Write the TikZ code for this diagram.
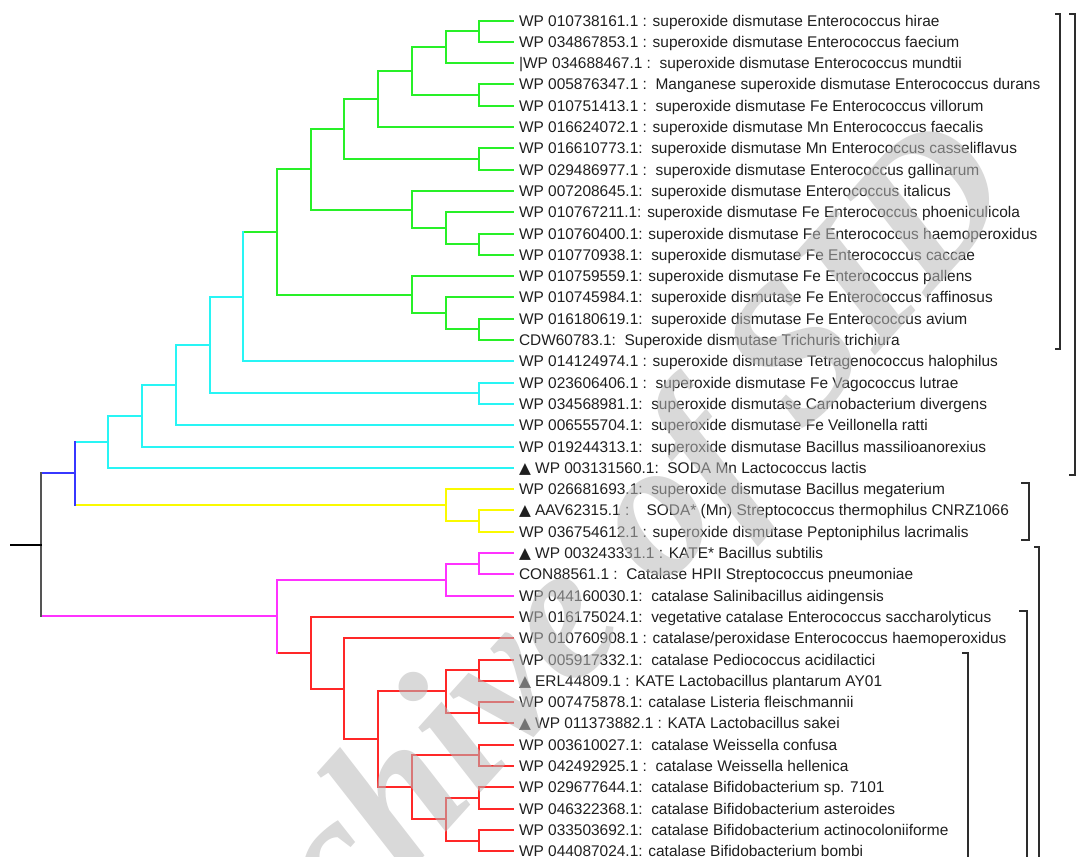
\documentclass[tikz,border=0pt]{standalone}
\usepackage{fontspec}
\setmainfont{Liberation Sans}
\newfontfamily\wmfont{Liberation Serif}
\newfontfamily\symfnt{DejaVu Sans}
\definecolor{cg}{RGB}{40,240,40}
\definecolor{cc}{RGB}{40,245,245}
\definecolor{cb}{RGB}{55,55,255}
\definecolor{cy}{RGB}{250,250,0}
\definecolor{cm}{RGB}{255,50,255}
\definecolor{cr}{RGB}{255,40,40}
\definecolor{cgr}{RGB}{85,85,85}
\definecolor{bkc}{RGB}{45,45,45}
\definecolor{wmc}{RGB}{185,185,185}
\newcommand\pxX[1]{round(41+33.71*#1)}
\newcommand\pxY[1]{round(21.3*#1-0.8)}
\newcommand\jn[6]{\draw[#5] (#1 |- #2) -- (#2); \draw[#6] (#1 |- #3) -- (#3); \draw[#4] (#1 |- #2) -- (#1 |- #3);}
\newcommand\tri{{\symfnt ▲}}
\newcommand\ic[3]{\coordinate (#1) at ({\pxX{#2}},{\pxY{#3}});}
\begin{document}
\begin{tikzpicture}[x=1pt,y=-1pt,
  lab/.style={anchor=base west, inner sep=0pt, font=\fontsize{15.45}{18}\selectfont, text=black!88},
  every path/.style={line width=2pt, line cap=rect},
  G/.style={draw=cg}, C/.style={draw=cc}, B/.style={draw=cb}, Y/.style={draw=cy},
  M/.style={draw=cm}, R/.style={draw=cr}, K/.style={draw=cgr}, S/.style={draw=black},
  bk/.style={draw=bkc, line width=2pt, line cap=butt}]
\useasboundingbox (0,0) rectangle (1077,857);
% leaf ends
\foreach \i in {1,...,40}{\coordinate (e\i) at (513,{\pxY{\i}});}
% labels
\node[lab] (t1) at (518,{\pxY{1}+5.5}) {WP 010738161.1 : superoxide dismutase Enterococcus hirae};
\node[lab] (t2) at (518,{\pxY{2}+5.5}) {WP 034867853.1 : superoxide dismutase Enterococcus faecium};
\node[lab] (t3) at (518,{\pxY{3}+5.5}) {|WP 034688467.1 :\ \ superoxide dismutase Enterococcus mundtii};
\node[lab] (t4) at (518,{\pxY{4}+5.5}) {WP 005876347.1 :\ \ Manganese superoxide dismutase Enterococcus durans};
\node[lab] (t5) at (518,{\pxY{5}+5.5}) {WP 010751413.1 :\ \ superoxide dismutase Fe Enterococcus villorum};
\node[lab] (t6) at (518,{\pxY{6}+5.5}) {WP 016624072.1 : superoxide dismutase Mn Enterococcus faecalis};
\node[lab] (t7) at (518,{\pxY{7}+5.5}) {WP 016610773.1:\ \ superoxide dismutase Mn Enterococcus casseliflavus};
\node[lab] (t8) at (518,{\pxY{8}+5.5}) {WP 029486977.1 :\ \ superoxide dismutase Enterococcus gallinarum};
\node[lab] (t9) at (518,{\pxY{9}+5.5}) {WP 007208645.1:\ \ superoxide dismutase Enterococcus italicus};
\node[lab] (t10) at (518,{\pxY{10}+5.5}) {WP 010767211.1: superoxide dismutase Fe Enterococcus phoeniculicola};
\node[lab] (t11) at (518,{\pxY{11}+5.5}) {WP 010760400.1: superoxide dismutase Fe Enterococcus haemoperoxidus};
\node[lab] (t12) at (518,{\pxY{12}+5.5}) {WP 010770938.1:\ \ superoxide dismutase Fe Enterococcus caccae};
\node[lab] (t13) at (518,{\pxY{13}+5.5}) {WP 010759559.1: superoxide dismutase Fe Enterococcus pallens};
\node[lab] (t14) at (518,{\pxY{14}+5.5}) {WP 010745984.1:\ \ superoxide dismutase Fe Enterococcus raffinosus};
\node[lab] (t15) at (518,{\pxY{15}+5.5}) {WP 016180619.1:\ \ superoxide dismutase Fe Enterococcus avium};
\node[lab] (t16) at (518,{\pxY{16}+5.5}) {CDW60783.1:\ \ Superoxide dismutase Trichuris trichiura};
\node[lab] (t17) at (518,{\pxY{17}+5.5}) {WP 014124974.1 : superoxide dismutase Tetragenococcus halophilus};
\node[lab] (t18) at (518,{\pxY{18}+5.5}) {WP 023606406.1 :\ \ superoxide dismutase Fe Vagococcus lutrae};
\node[lab] (t19) at (518,{\pxY{19}+5.5}) {WP 034568981.1:\ \ superoxide dismutase Carnobacterium divergens};
\node[lab] (t20) at (518,{\pxY{20}+5.5}) {WP 006555704.1:\ \ superoxide dismutase Fe Veillonella ratti};
\node[lab] (t21) at (518,{\pxY{21}+5.5}) {WP 019244313.1:\ \ superoxide dismutase Bacillus massilioanorexius};
\node[lab] (t22) at (518,{\pxY{22}+5.5}) {\tri\ WP 003131560.1:\ \ SODA Mn Lactococcus lactis};
\node[lab] (t23) at (518,{\pxY{23}+5.5}) {WP 026681693.1:\ \ superoxide dismutase Bacillus megaterium};
\node[lab] (t24) at (518,{\pxY{24}+5.5}) {\tri\ AAV62315.1 :\ \ \ \ SODA* (Mn) Streptococcus thermophilus CNRZ1066};
\node[lab] (t25) at (518,{\pxY{25}+5.5}) {WP 036754612.1 : superoxide dismutase Peptoniphilus lacrimalis};
\node[lab] (t26) at (518,{\pxY{26}+5.5}) {\tri\ WP 003243331.1 : KATE* Bacillus subtilis};
\node[lab] (t27) at (518,{\pxY{27}+5.5}) {CON88561.1 :\ \ Catalase HPII Streptococcus pneumoniae};
\node[lab] (t28) at (518,{\pxY{28}+5.5}) {WP 044160030.1:\ \ catalase Salinibacillus aidingensis};
\node[lab] (t29) at (518,{\pxY{29}+5.5}) {WP 016175024.1:\ \ vegetative catalase Enterococcus saccharolyticus};
\node[lab] (t30) at (518,{\pxY{30}+5.5}) {WP 010760908.1 : catalase/peroxidase Enterococcus haemoperoxidus};
\node[lab] (t31) at (518,{\pxY{31}+5.5}) {WP 005917332.1:\ \ catalase Pediococcus acidilactici};
\node[lab] (t32) at (518,{\pxY{32}+5.5}) {\tri\ ERL44809.1 : KATE Lactobacillus plantarum AY01};
\node[lab] (t33) at (518,{\pxY{33}+5.5}) {WP 007475878.1: catalase Listeria fleischmannii};
\node[lab] (t34) at (518,{\pxY{34}+5.5}) {\tri\ WP 011373882.1 : KATA Lactobacillus sakei};
\node[lab] (t35) at (518,{\pxY{35}+5.5}) {WP 003610027.1:\ \ catalase Weissella confusa};
\node[lab] (t36) at (518,{\pxY{36}+5.5}) {WP 042492925.1 :\ \ catalase Weissella hellenica};
\node[lab] (t37) at (518,{\pxY{37}+5.5}) {WP 029677644.1:\ \ catalase Bifidobacterium sp. 7101};
\node[lab] (t38) at (518,{\pxY{38}+5.5}) {WP 046322368.1:\ \ catalase Bifidobacterium asteroides};
\node[lab] (t39) at (518,{\pxY{39}+5.5}) {WP 033503692.1:\ \ catalase Bifidobacterium actinocoloniiforme};
\node[lab] (t40) at (518,{\pxY{40}+5.5}) {WP 044087024.1: catalase Bifidobacterium bombi};
% internal nodes
\ic{g1}{13}{1.5}
\ic{g2}{12}{2.25}
\ic{g3}{13}{4.5}
\ic{g4}{11}{3.375}
\ic{g5}{10}{4.6875}
\ic{g6}{13}{7.5}
\ic{g7}{9}{6.09375}
\ic{g8}{13}{11.5}
\ic{g9}{12}{10.75}
\ic{g10}{11}{9.875}
\ic{g11}{8}{7.984375}
\ic{g12}{13}{15.5}
\ic{g13}{12}{14.75}
\ic{g14}{11}{13.875}
\ic{g15}{7}{10.9296875}
\ic{c1}{6}{13.96484375}
\ic{c2}{13}{18.5}
\ic{c3}{5}{16.232421875}
\ic{c4}{4}{18.1162109375}
\ic{c5}{3}{19.55810546875}
\ic{c6}{2}{20.779052734375}
\ic{y1}{13}{24.5}
\ic{y2}{12}{23.75}
\ic{b1}{1}{22.2645263671875}
\ic{m1}{13}{26.5}
\ic{m2}{12}{27.25}
\ic{r1}{13}{31.5}
\ic{r2}{13}{33.5}
\ic{r3}{12}{32.5}
\ic{r4}{13}{35.5}
\ic{r5}{13}{37.5}
\ic{r6}{13}{39.5}
\ic{r7}{12}{38.5}
\ic{r8}{11}{37}
\ic{r9}{10}{34.75}
\ic{r10}{9}{32.375}
\ic{r11}{8}{30.6875}
\ic{m3}{7}{28.96875}
\ic{root}{0}{25.61663818359375}
\coordinate (stem) at (11,{\pxY{25.61663818359375}});
% green clade
\jn{g1}{e1}{e2}{G}{G}{G}
\jn{g2}{g1}{e3}{G}{G}{G}
\jn{g3}{e4}{e5}{G}{G}{G}
\jn{g4}{g2}{g3}{G}{G}{G}
\jn{g5}{g4}{e6}{G}{G}{G}
\jn{g6}{e7}{e8}{G}{G}{G}
\jn{g7}{g5}{g6}{G}{G}{G}
\jn{g8}{e11}{e12}{G}{G}{G}
\jn{g9}{e10}{g8}{G}{G}{G}
\jn{g10}{e9}{g9}{G}{G}{G}
\jn{g11}{g7}{g10}{G}{G}{G}
\jn{g12}{e15}{e16}{G}{G}{G}
\jn{g13}{e14}{g12}{G}{G}{G}
\jn{g14}{e13}{g13}{G}{G}{G}
\jn{g15}{g11}{g14}{G}{G}{G}
% cyan
\jn{c1}{g15}{e17}{C}{G}{C}
\jn{c2}{e18}{e19}{C}{C}{C}
\jn{c3}{c1}{c2}{C}{C}{C}
\jn{c4}{c3}{e20}{C}{C}{C}
\jn{c5}{c4}{e21}{C}{C}{C}
\jn{c6}{c5}{e22}{C}{C}{C}
% yellow
\jn{y1}{e24}{e25}{Y}{Y}{Y}
\jn{y2}{e23}{y1}{Y}{Y}{Y}
\jn{b1}{c6}{y2}{B}{C}{Y}
% magenta / red
\jn{m1}{e26}{e27}{M}{M}{M}
\jn{m2}{m1}{e28}{M}{M}{M}
\jn{r1}{e31}{e32}{R}{R}{R}
\jn{r2}{e33}{e34}{R}{R}{R}
\jn{r3}{r1}{r2}{R}{R}{R}
\jn{r4}{e35}{e36}{R}{R}{R}
\jn{r5}{e37}{e38}{R}{R}{R}
\jn{r6}{e39}{e40}{R}{R}{R}
\jn{r7}{r5}{r6}{R}{R}{R}
\jn{r8}{r4}{r7}{R}{R}{R}
\jn{r9}{r3}{r8}{R}{R}{R}
\jn{r10}{e30}{r9}{R}{R}{R}
\jn{r11}{e29}{r10}{R}{R}{R}
\jn{m3}{m2}{r11}{M}{M}{R}
\jn{root}{b1}{m3}{K}{B}{M}
\draw[S] (stem) -- (root);
% brackets
\draw[bk] (1055,14) -- (1060,14) -- (1060,349) -- (1055,349);
\draw[bk] (1069,14) -- (1075,14) -- (1075,475) -- (1069,475);
\draw[bk] (1021,483) -- (1029,483) -- (1029,540) -- (1021,540);
\draw[bk] (1034,547) -- (1039,547) -- (1039,857);
\draw[bk] (1019,611) -- (1027,611) -- (1027,857);
\draw[bk] (962,653) -- (968,653) -- (968,857);
% watermark
\node[rotate=48, text=wmc, opacity=0.55, inner sep=0pt,
  font=\wmfont\bfseries\itshape\fontsize{195}{195}\selectfont] (wm) at (580,612) {Archive of SID};
\end{tikzpicture}
\end{document}
